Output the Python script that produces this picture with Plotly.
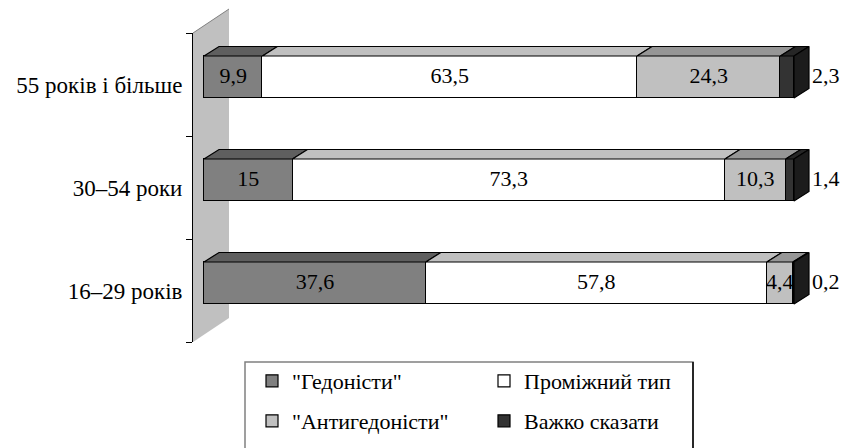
import plotly.graph_objects as go

# ---- data ----
groups = ["16–29 років", "30–54 роки", "55 років і більше"]
hedonists = [37.6, 15, 9.9]
intermediate = [57.8, 73.3, 63.5]
antihedonists = [4.4, 10.3, 24.3]
hard_to_say = [0.2, 1.4, 2.3]
series_names = ['"Гедоністи"', "Проміжний тип", '"Антигедоністи"', "Важко сказати"]

def fmt(v):
    return ("%g" % v).replace(".", ",")

# ---- geometry / style (page body adds an 8px offset) ----
OFF = 8
W, H = 849 - OFF, 448 - OFF
ML = 193 - OFF
MT = 33 - OFF
MB = H - (342 - OFF)
MR = 0
PW, PH = W - ML - MR, H - MT - MB
PX_PER_X = 5.9                      # pixels per percent
X0 = -11 / PX_PER_X
X1 = X0 + PW / PX_PER_X
PX_PER_Y = PH / 3.0
DDX = 15 / PX_PER_X                 # depth offset (data units)
DDY = 9.5 / PX_PER_Y
SHIFT = 7.5 / PX_PER_Y              # bars sit slightly above the category centre
BW = 42 / PX_PER_Y

front = ["#808080", "#ffffff", "#c0c0c0", "#333333"]
top = ["#5f5f5f", "#c0c0c0", "#969696", "#262626"]
side = "#1c1c1c"
FONT = "Liberation Serif, Times New Roman, serif"

series = [hedonists, intermediate, antihedonists, hard_to_say]
ypos = list(range(len(groups)))

fig = go.Figure()

# front faces (stacked bars)
for k, (name, vals) in enumerate(zip(series_names, series)):
    fig.add_trace(go.Bar(
        y=ypos, x=vals, orientation="h", name=name,
        width=BW, offset=SHIFT - BW / 2,
        marker=dict(color=front[k], line=dict(color="black", width=1.2)),
        legend="legend" if k < 2 else "legend2",
        hoverinfo="skip",
    ))

# top and side faces computed from the data
for i, yc in enumerate(ypos):
    yt = yc + SHIFT + BW / 2
    yb = yc + SHIFT - BW / 2
    start = 0.0
    for k, vals in enumerate(series):
        end = start + vals[i]
        fig.add_trace(go.Scatter(
            x=[start, start + DDX, end + DDX, end, start],
            y=[yt, yt + DDY, yt + DDY, yt, yt],
            mode="lines", fill="toself", fillcolor=top[k],
            line=dict(color="black", width=1.2),
            showlegend=False, hoverinfo="skip"))
        start = end
    fig.add_trace(go.Scatter(
        x=[start, start + DDX, start + DDX, start, start],
        y=[yt, yt + DDY, yb + DDY, yb, yt],
        mode="lines", fill="toself", fillcolor=side,
        line=dict(color="black", width=1.2),
        showlegend=False, hoverinfo="skip"))

# value labels
lx, ly, lt = [], [], []
ox, oy, ot = [], [], []
for i, yc in enumerate(ypos):
    start = 0.0
    for k, vals in enumerate(series):
        end = start + vals[i]
        if k < 3:
            lx.append((start + end) / 2); ly.append(yc + SHIFT); lt.append(fmt(vals[i]))
        else:
            ox.append(end + DDX + 0.5); oy.append(yc + SHIFT); ot.append(fmt(vals[i]))
        start = end
fig.add_trace(go.Scatter(x=lx, y=ly, text=lt, mode="text", textposition="middle center",
                         textfont=dict(family=FONT, size=22, color="black"),
                         showlegend=False, hoverinfo="skip"))
fig.add_trace(go.Scatter(x=ox, y=oy, text=ot, mode="text", textposition="middle right",
                         textfont=dict(family=FONT, size=22, color="black"),
                         showlegend=False, hoverinfo="skip"))

# back wall (decoration)
wx = 36 / PW
wy1 = (342 - 9) / PH
wy0 = (342 - 318) / PH
fig.add_shape(type="path", xref="paper", yref="paper", layer="below",
              path=f"M 0 0 L 0 1 L {wx} {wy1} L {wx} {wy0} Z",
              fillcolor="#c0c0c0", line=dict(width=0))
fig.add_shape(type="line", xref="paper", yref="paper", layer="below",
              x0=0, y0=1, x1=wx, y1=wy1, line=dict(color="#808080", width=1))

# legend frame (reference pixel coords minus body offset)
def px2paper_x(px):
    return (px - OFF - ML) / PW

def px2paper_y(py):
    return (H - (py - OFF) - MB) / PH

fig.add_shape(type="rect", xref="paper", yref="paper",
              x0=px2paper_x(245), x1=px2paper_x(693),
              y0=px2paper_y(452), y1=px2paper_y(362),
              line=dict(color="#808080", width=1.5), fillcolor="rgba(0,0,0,0)")
fig.add_shape(type="line", xref="paper", yref="paper",
              x0=px2paper_x(693), x1=px2paper_x(693),
              y0=px2paper_y(452), y1=px2paper_y(362),
              line=dict(color="black", width=1.5))

leg_common = dict(orientation="h", xref="container", yref="container",
                  xanchor="left", yanchor="top", bgcolor="rgba(0,0,0,0)",
                  borderwidth=0, font=dict(family=FONT, size=22, color="black"),
                  entrywidth=187, entrywidthmode="pixels", traceorder="normal")
fig.update_layout(
    width=W, height=H,
    margin=dict(l=ML, r=MR, t=MT, b=MB),
    paper_bgcolor="white", plot_bgcolor="rgba(0,0,0,0)",
    barmode="stack", bargap=0,
    font=dict(family=FONT, size=22, color="black"),
    xaxis=dict(range=[X0, X1], visible=False, fixedrange=True),
    yaxis=dict(range=[-0.5, 2.5], tickvals=ypos, ticktext=groups, ticks="",
               showline=True, linecolor="black", linewidth=1,
               showgrid=False, zeroline=False, ticklabelstandoff=5,
               tickfont=dict(family=FONT, size=23, color="black"),
               minor=dict(tickvals=[-0.5, 0.5, 1.5, 2.5], ticks="outside",
                          ticklen=6, tickcolor="black", tickwidth=1, showgrid=False)),
    legend=dict(x=244 / W, y=1 - 352 / H, **leg_common),
    legend2=dict(x=244 / W, y=1 - 392 / H, **leg_common),
    showlegend=True,
)

fig.write_html("out.html")
